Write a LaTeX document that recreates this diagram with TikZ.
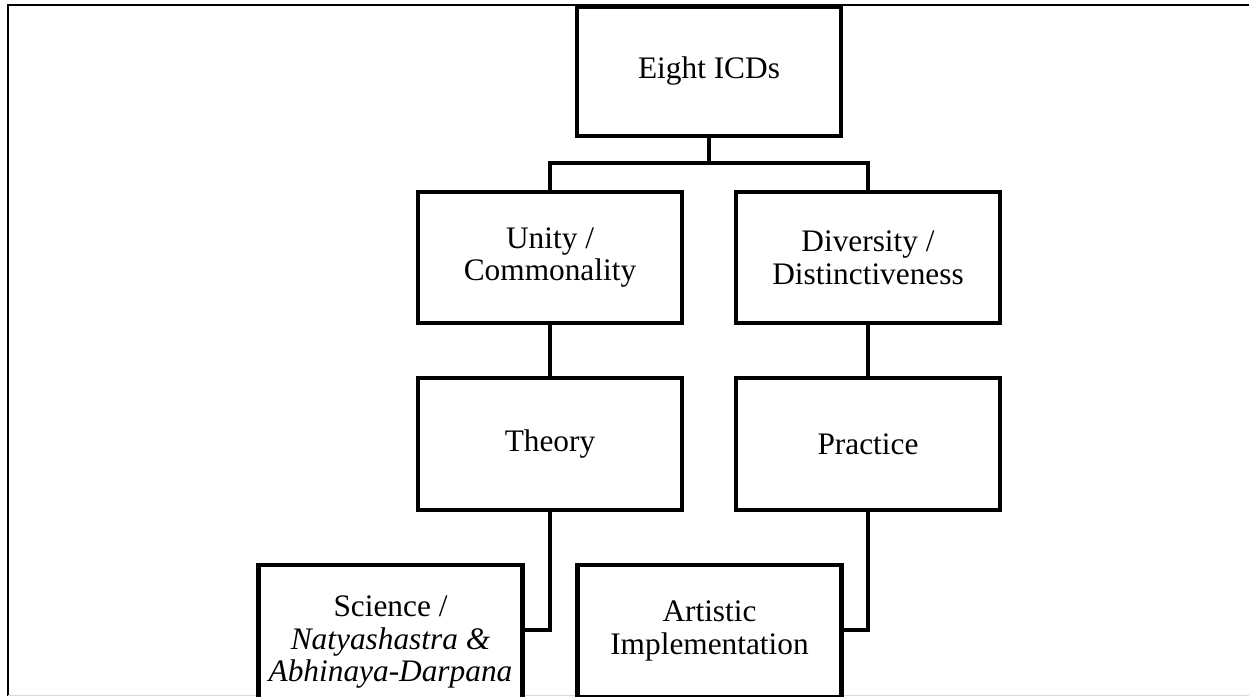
\documentclass[tikz,border=0pt]{standalone}
\usepackage{fontspec}
\setmainfont{Liberation Serif}
\begin{document}
\begin{tikzpicture}[x=0.75pt,y=-0.75pt,
  box/.style={draw=black,line width=3.5pt,fill=white,align=center,inner sep=0pt,
    minimum width=198pt,font=\fontsize{23.5}{24.5}\selectfont},
  conn/.style={draw=black,line width=3.5pt}]
\useasboundingbox (0,0) rectangle (1249,696);
% outer frame (partly visible)
\draw[line width=1.8pt] (8,696) -- (8,5) -- (1249,5);
\draw[line width=1pt,color=black!15] (8,695.5) -- (1249,695.5);
% nodes
\node[box,minimum height=96.75pt] (icd) at (709,71.5) {Eight ICDs};
\node[box,minimum height=98.25pt] (unity) at (550,257.5) {Unity /\\Commonality};
\node[box,minimum height=98.25pt] (div) at (868,257.5) {Diversity /\\Distinctiveness};
\node[box,minimum height=99pt] (theory) at (550,444) {Theory};
\node[box,minimum height=99pt] (practice) at (868,444) {Practice};
\node[box,minimum height=115.5pt] (sci) at (390.5,642) {Science /\\\textit{Natyashastra \&}\\\textit{Abhinaya-Darpana}};
\node[box,minimum height=99pt] (art) at (709.5,631) {Artistic\\Implementation};
% connectors
\coordinate (j) at (709,163);
\coordinate (sj) at (550,630);
\coordinate (pj) at (868,630);
\draw[conn] (icd.south) -- (j);
\draw[conn] (unity.north) |- (j) -| (div.north);
\draw[conn] (unity.south) -- (theory.north);
\draw[conn] (div.south) -- (practice.north);
\draw[conn] (theory.south) -- (sj) -- (sj -| sci.east);
\draw[conn] (practice.south) -- (pj) -- (pj -| art.east);
\end{tikzpicture}
\end{document}
